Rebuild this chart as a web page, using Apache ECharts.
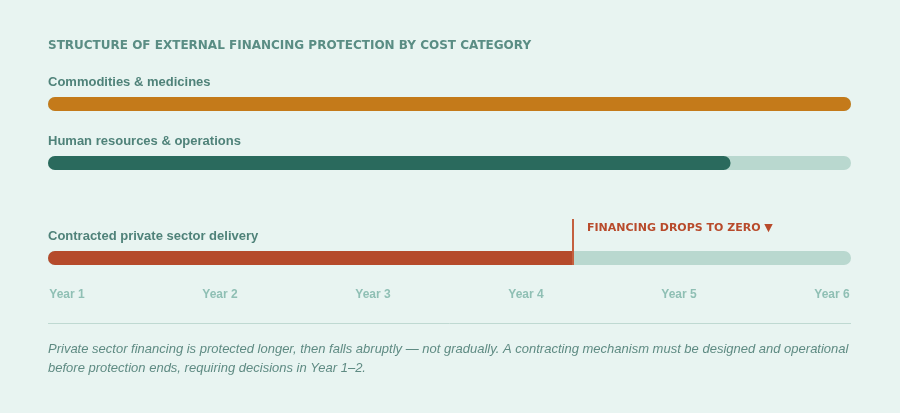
<!DOCTYPE html>
<html>
<head>
<meta charset="utf-8">
<title>Structure of external financing protection</title>
<script src="https://cdn.jsdelivr.net/npm/echarts@6/dist/echarts.min.js"></script>
<style>
  html, body { margin: 0; padding: 0; background: #e8f4f1; }
  #chart { width: 900px; height: 413px; }
</style>
</head>
<body>
<div id="chart"></div>
<script>
// cost categories, top to bottom
var categories = ['Commodities & medicines', 'Human resources & operations', 'Contracted private sector delivery'];
// share of the six-year horizon still protected (%)
var protectedShare = [100, 85, 65.3];
// point where private sector financing drops to zero (% of horizon)
var dropPoint = 65.3;
var yearLabels = ['Year 1', 'Year 2', 'Year 3', 'Year 4', 'Year 5', 'Year 6'];

var titleText = 'STRUCTURE OF EXTERNAL FINANCING PROTECTION BY COST CATEGORY';
var dropText = 'FINANCING DROPS TO ZERO \u25BC';
var noteText = 'Private sector financing is protected longer, then falls abruptly \u2014 not gradually. A contracting mechanism must be designed and operational\nbefore protection ends, requiring decisions in Year 1\u20132.';

var barColors = ['#c47a1a', '#2a6a5d', '#b54a2b'];
var trackColor = '#b9d8cf';
var sans = '"Liberation Sans", Arial, sans-serif';

var chart = echarts.init(document.getElementById('chart'));

// one grid per bar, then one for the marker and one for the year labels
var barTops = [97, 156, 251];
var grids = [], xAxes = [], yAxes = [], series = [];
for (var i = 0; i < categories.length; i++) {
	grids.push({ left: 48, right: 49, top: barTops[i], height: 14 });
	xAxes.push({ type: 'value', gridIndex: i, min: 0, max: 100, show: false });
	yAxes.push({ type: 'category', gridIndex: i, data: [categories[i]], show: false });
	series.push({
		type: 'bar',
		xAxisIndex: i,
		yAxisIndex: i,
		data: [protectedShare[i]],
		barWidth: 14,
		silent: true,
		showBackground: true,
		backgroundStyle: { color: trackColor, borderRadius: 7 },
		itemStyle: {
			color: barColors[i],
			borderRadius: i == 2 ? [7, 0, 0, 7] : 7
		}
	});
}

// marker grid, from the label down to the bottom of the last bar
grids.push({ left: 48, right: 49, top: 219, height: 46 });
xAxes.push({ type: 'value', gridIndex: 3, min: 0, max: 100, show: false });
yAxes.push({ type: 'category', gridIndex: 3, data: ['marker'], show: false });
series.push({
	type: 'scatter',
	xAxisIndex: 3,
	yAxisIndex: 3,
	data: [[dropPoint, 'marker']],
	symbolSize: 0,
	silent: true,
	markLine: {
		silent: true,
		symbol: 'none',
		label: { show: false },
		lineStyle: { color: '#c4603f', width: 2, type: 'solid' },
		data: [{ xAxis: dropPoint }]
	}
});

// year labels spread evenly, first and last centred near the ends
grids.push({ left: 67, right: 68, top: 280, height: 1 });
xAxes.push({
	type: 'category',
	gridIndex: 4,
	data: yearLabels,
	boundaryGap: false,
	axisLine: { show: false },
	axisTick: { show: false },
	splitLine: { show: false },
	axisLabel: {
		margin: 8,
		color: '#8fbfb4',
		fontSize: 12,
		fontWeight: 'bold',
		fontFamily: sans
	}
});
yAxes.push({ type: 'value', gridIndex: 4, show: false });

var option = {
	backgroundColor: '#e8f4f1',
	animation: false,
	title: [
		{
			text: titleText, left: 48, top: 40, padding: 0,
			textStyle: { fontSize: 12, fontWeight: 'bold', color: '#5a8d84', fontFamily: '"DejaVu Sans", sans-serif' }
		},
		{
			text: categories[0], left: 48, top: 76, padding: 0,
			textStyle: { fontSize: 13, fontWeight: 'bold', color: '#4f8279', fontFamily: sans }
		},
		{
			text: categories[1], left: 48, top: 135, padding: 0,
			textStyle: { fontSize: 13, fontWeight: 'bold', color: '#4f8279', fontFamily: sans }
		},
		{
			text: categories[2], left: 48, top: 230, padding: 0,
			textStyle: { fontSize: 13, fontWeight: 'bold', color: '#4f8279', fontFamily: sans }
		},
		{
			text: dropText, left: 587, top: 223, padding: 0,
			textStyle: { fontSize: 11, fontWeight: 'bold', color: '#b84a2b', fontFamily: '"DejaVu Sans", sans-serif' }
		},
		{
			text: noteText, left: 48, top: 339.5, padding: 0,
			textStyle: { fontSize: 13, fontStyle: 'italic', fontWeight: 'normal', color: '#5f8b83', fontFamily: sans, lineHeight: 19.5 }
		}
	],
	graphic: [
		{
			type: 'line',
			silent: true,
			shape: { x1: 48, y1: 323.5, x2: 851, y2: 323.5 },
			style: { stroke: '#bfd9d2', lineWidth: 1 }
		}
	],
	grid: grids,
	xAxis: xAxes,
	yAxis: yAxes,
	series: series
};

chart.setOption(option);
</script>
</body>
</html>
